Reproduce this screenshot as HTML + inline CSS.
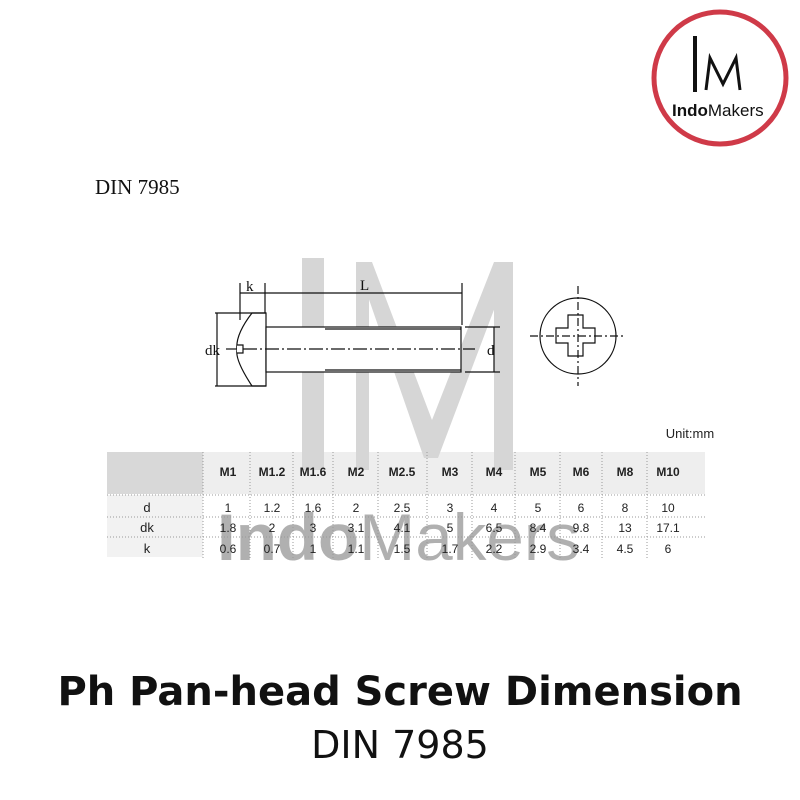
<!DOCTYPE html>
<html><head><style>
body{margin:0;background:#fff;width:800px;height:800px;overflow:hidden}
svg{display:block}
</style></head><body>
<svg width="800" height="800" xmlns="http://www.w3.org/2000/svg" font-family="Liberation Sans, sans-serif">
<!-- logo -->
<circle cx="720" cy="78" r="66" fill="none" stroke="#cf3a48" stroke-width="5"/>
<rect x="693" y="36" width="4" height="56" fill="#111"/>
<path d="M706 90 L710 58 L723 84 L736 58 L740 90" fill="none" stroke="#111" stroke-width="3"/>
<text x="672" y="116" font-size="17" fill="#111"><tspan font-weight="bold">Indo</tspan>Makers</text>

<text x="95" y="194" font-family="Liberation Serif, serif" font-size="21" fill="#111">DIN 7985</text>

<!-- table backgrounds -->
<rect x="107" y="452" width="96" height="42" fill="#d8d8d8"/>
<rect x="203" y="452" width="502" height="42" fill="#eeeeee"/>
<rect x="107" y="495" width="96" height="62" fill="#f2f2f2"/>

<!-- watermark -->
<g fill="#d6d6d6">
<rect x="302" y="258" width="22" height="212"/>
<rect x="356" y="262" width="13" height="208"/>
<path d="M356 262 L372 262 L432 420 L494 262 L512 262 L438 458 L424 458 Z"/>
<rect x="494" y="262" width="19" height="208"/>
</g>
<text x="217" y="560" font-size="66" textLength="363" lengthAdjust="spacingAndGlyphs" fill="#b0b0b0"><tspan font-weight="bold">Indo</tspan>Makers</text>

<g stroke="#999" stroke-dasharray="1,2" stroke-width="1">
<line x1="107" y1="517" x2="705" y2="517"/><line x1="107" y1="537" x2="705" y2="537"/>
<line x1="107" y1="495" x2="705" y2="495"/>
<line x1="203" y1="452" x2="203" y2="560"/><line x1="250" y1="452" x2="250" y2="560"/>
<line x1="293" y1="452" x2="293" y2="560"/><line x1="333" y1="452" x2="333" y2="560"/>
<line x1="378" y1="452" x2="378" y2="560"/><line x1="427" y1="452" x2="427" y2="560"/>
<line x1="472" y1="452" x2="472" y2="560"/><line x1="515" y1="452" x2="515" y2="560"/>
<line x1="560" y1="452" x2="560" y2="560"/><line x1="602" y1="452" x2="602" y2="560"/>
<line x1="647" y1="452" x2="647" y2="560"/>
</g>
<text x="690" y="438" font-size="13" text-anchor="middle" fill="#222">Unit:mm</text>
<g font-size="12" text-anchor="middle" fill="#222">
<g font-weight="bold"><text x="228" y="476">M1</text><text x="272" y="476">M1.2</text><text x="313" y="476">M1.6</text><text x="356" y="476">M2</text><text x="402" y="476">M2.5</text><text x="450" y="476">M3</text><text x="494" y="476">M4</text><text x="538" y="476">M5</text><text x="581" y="476">M6</text><text x="625" y="476">M8</text><text x="668" y="476">M10</text></g>
<g font-size="13"><text x="147" y="512">d</text><text x="147" y="532">dk</text><text x="147" y="553">k</text></g>
<text x="228" y="512">1</text><text x="272" y="512">1.2</text><text x="313" y="512">1.6</text><text x="356" y="512">2</text><text x="402" y="512">2.5</text><text x="450" y="512">3</text><text x="494" y="512">4</text><text x="538" y="512">5</text><text x="581" y="512">6</text><text x="625" y="512">8</text><text x="668" y="512">10</text>
<text x="228" y="532">1.8</text><text x="272" y="532">2</text><text x="313" y="532">3</text><text x="356" y="532">3.1</text><text x="402" y="532">4.1</text><text x="450" y="532">5</text><text x="494" y="532">6.5</text><text x="538" y="532">8.4</text><text x="581" y="532">9.8</text><text x="625" y="532">13</text><text x="668" y="532">17.1</text>
<text x="228" y="553">0.6</text><text x="272" y="553">0.7</text><text x="313" y="553">1</text><text x="356" y="553">1.1</text><text x="402" y="553">1.5</text><text x="450" y="553">1.7</text><text x="494" y="553">2.2</text><text x="538" y="553">2.9</text><text x="581" y="553">3.4</text><text x="625" y="553">4.5</text><text x="668" y="553">6</text>
</g>

<!-- screw drawing -->
<g fill="none" stroke="#111" stroke-width="1.2" font-family="Liberation Serif, serif">
<path d="M266 313 L266 386 L252 386 Q235 360 237 350 Q235 335 252 313 Z" fill="#fff"/>
<rect x="266" y="327" width="195" height="45" fill="#fff"/>
<line x1="325" y1="329" x2="461" y2="329"/><line x1="325" y1="370" x2="461" y2="370"/>
<path d="M237 345 L243 345 L243 353 L237 353" fill="#fff"/>
<line x1="215" y1="313" x2="266" y2="313"/><line x1="215" y1="386" x2="266" y2="386"/>
<line x1="217" y1="313" x2="217" y2="386"/>
<line x1="226" y1="349" x2="237" y2="349"/>
<line x1="240" y1="283" x2="240" y2="320"/><line x1="265" y1="283" x2="265" y2="313"/>
<line x1="462" y1="283" x2="462" y2="325"/>
<line x1="240" y1="293" x2="265" y2="293"/><line x1="265" y1="293" x2="462" y2="293"/>
<line x1="465" y1="327" x2="500" y2="327"/><line x1="465" y1="372" x2="500" y2="372"/>
<line x1="494" y1="327" x2="494" y2="372"/>
<line x1="243" y1="349" x2="475" y2="349" stroke-dasharray="14,3,2,3"/>
<circle cx="578" cy="336" r="38"/>
<path d="M568 315 h15 v13 h12 v15 h-12 v13 h-15 v-13 h-12 v-15 h12 z"/>
<line x1="578" y1="286" x2="578" y2="386" stroke-dasharray="8,3,2,3"/>
<line x1="530" y1="336" x2="626" y2="336" stroke-dasharray="8,3,2,3"/>
</g>
<g font-family="Liberation Serif, serif" font-size="15" fill="#111">
<text x="246" y="291">k</text><text x="360" y="290">L</text><text x="205" y="355">dk</text><text x="487" y="355">d</text>
</g>

<text x="400" y="705" font-size="40" font-weight="bold" text-anchor="middle" fill="#111" font-family="DejaVu Sans, sans-serif">Ph Pan-head Screw Dimension</text>
<text x="400" y="758" font-size="38" text-anchor="middle" fill="#111" font-family="DejaVu Sans, sans-serif">DIN 7985</text>
</svg>
</body></html>
